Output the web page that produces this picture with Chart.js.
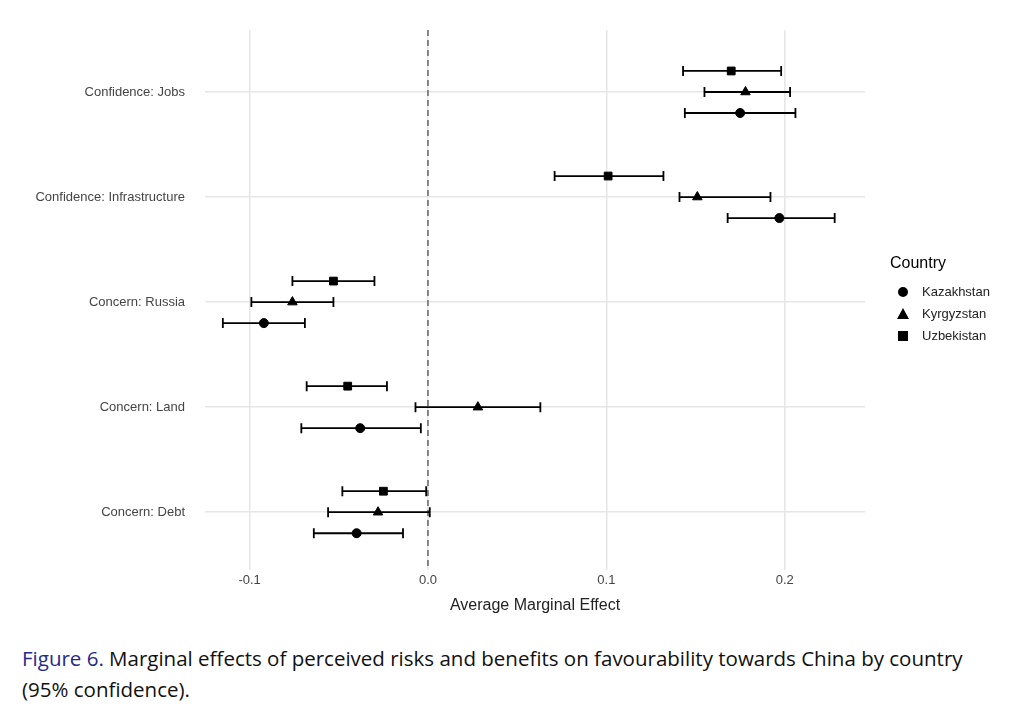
<!DOCTYPE html>
<html lang="en">
<head>
<meta charset="UTF-8">
<title>Marginal effects</title>
<script src="https://cdn.jsdelivr.net/npm/chart.js"></script>
<style>
  body { margin: 0; background: #fff; }
  #wrap { position: relative; width: 1024px; height: 625px; }
  .caption { font-family: "Open Sans", sans-serif; font-size: 20.5px; line-height: 31px; margin: 18px 30px 0 22px; color: #111; }
  .caption b { color: #1f2a8a; font-weight: normal; }
</style>
</head>
<body>
<div id="wrap"><canvas id="chart"></canvas></div>
<div class="caption"><b>Figure 6.</b> Marginal effects of perceived risks and benefits on favourability towards China by country (95% confidence).</div>
<script>
// categories, top to bottom
var categories = ["Confidence: Jobs", "Confidence: Infrastructure", "Concern: Russia", "Concern: Land", "Concern: Debt"];
var countries = ["Kazakhstan", "Kyrgyzstan", "Uzbekistan"];
var shapes = ["circle", "triangle", "rect"];
var offsets = [-0.2, 0, 0.2]; // vertical dodge per country
// estimates and 95% CI, same order as categories
var kazEst = [0.175, 0.197, -0.092, -0.038, -0.040];
var kazLo  = [0.144, 0.168, -0.115, -0.071, -0.064];
var kazHi  = [0.206, 0.228, -0.069, -0.004, -0.014];
var kyrEst = [0.178, 0.151, -0.076, 0.028, -0.028];
var kyrLo  = [0.155, 0.141, -0.099, -0.007, -0.056];
var kyrHi  = [0.203, 0.192, -0.053, 0.063, 0.001];
var uzbEst = [0.170, 0.101, -0.053, -0.045, -0.025];
var uzbLo  = [0.143, 0.071, -0.076, -0.068, -0.048];
var uzbHi  = [0.198, 0.132, -0.030, -0.023, -0.001];
var xTicks = [-0.1, 0, 0.1, 0.2];

var est = [kazEst, kyrEst, uzbEst], lo = [kazLo, kyrLo, uzbLo], hi = [kazHi, kyrHi, uzbHi];
var radii = [4.5, 5.5, 5.5];
var datasets = countries.map(function (c, i) {
    return {
        label: c,
        pointStyle: shapes[i],
        pointRadius: radii[i],
        backgroundColor: "#000",
        borderColor: "#000",
        data: categories.map(function (cat, j) {
            return { x: est[i][j], y: categories.length - j + offsets[i], lo: lo[i][j], hi: hi[i][j] };
        })
    };
});

var extras = {
    id: "extras",
    beforeDatasetsDraw: function (chart) {
        var ctx = chart.ctx, xs = chart.scales.x, ys = chart.scales.y, a = chart.chartArea;
        ctx.save();
        ctx.setLineDash([6, 4]);
        ctx.strokeStyle = "#666";
        ctx.lineWidth = 1.5;
        ctx.beginPath();
        ctx.moveTo(xs.getPixelForValue(0), a.top);
        ctx.lineTo(xs.getPixelForValue(0), a.bottom);
        ctx.stroke();
        ctx.setLineDash([]);
        ctx.strokeStyle = "#000";
        ctx.lineWidth = 1.8;
        chart.data.datasets.forEach(function (ds) {
            ds.data.forEach(function (p) {
                var y = ys.getPixelForValue(p.y), x1 = xs.getPixelForValue(p.lo), x2 = xs.getPixelForValue(p.hi);
                ctx.beginPath();
                ctx.moveTo(x1, y); ctx.lineTo(x2, y);
                ctx.moveTo(x1, y - 5); ctx.lineTo(x1, y + 5);
                ctx.moveTo(x2, y - 5); ctx.lineTo(x2, y + 5);
                ctx.stroke();
            });
        });
        ctx.restore();
    },
    afterDraw: function (chart) {
        var ctx = chart.ctx;
        ctx.save();
        ctx.fillStyle = "#000";
        ctx.font = "16px 'Liberation Sans', Arial, sans-serif";
        ctx.textBaseline = "middle";
        ctx.fillText("Country", 890, 264);
        ctx.font = "13px 'Liberation Sans', Arial, sans-serif";
        countries.forEach(function (c, i) {
            var y = 292 + i * 22;
            ctx.beginPath();
            if (i === 0) ctx.arc(903, y, 5, 0, Math.PI * 2);
            if (i === 1) { ctx.moveTo(903, y - 6); ctx.lineTo(909, y + 5); ctx.lineTo(897, y + 5); ctx.closePath(); }
            if (i === 2) ctx.rect(898, y - 5, 10, 10);
            ctx.fill();
            ctx.fillStyle = "#222";
            ctx.fillText(c, 922, y);
            ctx.fillStyle = "#000";
        });
        ctx.restore();
    }
};

new Chart(document.getElementById("chart"), {
    type: "scatter",
    data: { datasets: datasets },
    plugins: [extras],
    options: {
        responsive: true,
        maintainAspectRatio: false,
        animation: false,
        layout: { padding: { top: 30, right: 159, bottom: 8, left: 0 } },
        plugins: { legend: { display: false }, tooltip: { enabled: false } },
        scales: {
            x: {
                min: -0.125, max: 0.245,
                afterBuildTicks: function (s) { s.ticks = xTicks.map(function (v) { return { value: v }; }); },
                afterFit: function (s) { s.height = 47; },
                ticks: { color: "#444", font: { size: 13, family: "Liberation Sans" }, callback: function (v) { return v === 0 ? "0.0" : v; } },
                grid: { color: "#e6e6e6", lineWidth: 1.5, drawTicks: false },
                border: { display: false },
                title: { display: true, text: "Average Marginal Effect", color: "#222", font: { size: 16, family: "Liberation Sans" }, padding: 2 }
            },
            y: {
                min: 0.45, max: 5.59,
                afterBuildTicks: function (s) { s.ticks = [1, 2, 3, 4, 5].map(function (v) { return { value: v }; }); },
                afterFit: function (s) { s.width = 205; },
                ticks: { color: "#444", font: { size: 13, family: "Liberation Sans" }, padding: 20,
                    callback: function (v) { return categories[categories.length - v]; } },
                grid: { color: "#e6e6e6", lineWidth: 1.5, drawTicks: false },
                border: { display: false }
            }
        }
    }
});
</script>
</body>
</html>
